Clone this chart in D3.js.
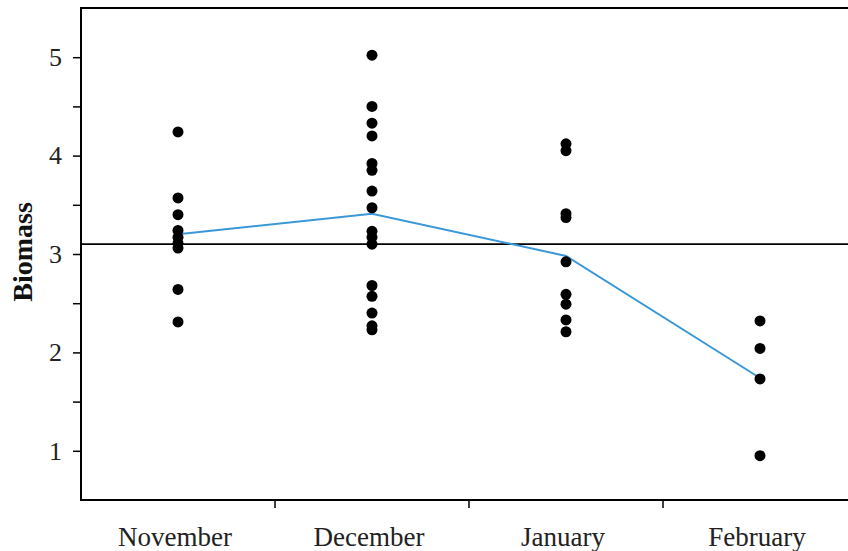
<!DOCTYPE html>
<html>
<head>
<meta charset="utf-8">
<script src="https://cdn.jsdelivr.net/npm/d3@7"></script>
<style>
  html, body { margin: 0; padding: 0; background: #fff; }
  svg { display: block; }
</style>
</head>
<body>
<svg id="chart" width="848" height="551"></svg>
<script>
// ---- data ----
const categories = ["November", "December", "January", "February"];
const novemberValues = [4.24, 3.57, 3.40, 3.24, 3.17, 3.11, 3.06, 2.64, 2.31];
const decemberValues = [5.02, 4.50, 4.33, 4.20, 3.92, 3.85, 3.64, 3.47, 3.23, 3.17, 3.10, 2.68, 2.57, 2.40, 2.27, 2.23];
const januaryValues  = [4.12, 4.05, 3.41, 3.37, 2.92, 2.59, 2.49, 2.33, 2.21];
const februaryValues = [2.32, 2.04, 1.73, 0.95];
const groupMeans = [3.20, 3.41, 2.98, 1.74];
const grandMean = 3.10;
const yTickValues = [1, 1.5, 2, 2.5, 3, 3.5, 4, 4.5, 5];
const yDomain = [0.5, 5.5];

const groups = [novemberValues, decemberValues, januaryValues, februaryValues];

// ---- layout ----
const svg = d3.select("#chart");
const plotLeft = 81, plotRight = 857, plotTop = 8, plotBottom = 500;

const x = d3.scaleBand().domain(categories).range([plotLeft, plotRight]).padding(0);
const y = d3.scaleLinear().domain(yDomain).range([plotBottom, plotTop]);
const cx = c => x(c) + x.bandwidth() / 2;

// frame
svg.append("rect")
  .attr("x", plotLeft).attr("y", plotTop)
  .attr("width", plotRight - plotLeft).attr("height", plotBottom - plotTop)
  .attr("fill", "none").attr("stroke", "#000").attr("stroke-width", 2);

// y axis
const yAxis = d3.axisLeft(y)
  .tickValues(yTickValues)
  .tickSize(8)
  .tickPadding(11)
  .tickFormat(d => Number.isInteger(d) ? d3.format("d")(d) : "");
const gy = svg.append("g").attr("transform", `translate(${plotLeft},0)`).call(yAxis);
gy.select(".domain").remove();
gy.selectAll(".tick line").attr("stroke", "#000").attr("stroke-width", 1.5);
gy.selectAll(".tick text")
  .attr("font-family", "'Liberation Serif', 'Times New Roman', serif")
  .attr("font-size", 26).attr("fill", "#222");

// x axis labels
const xAxis = d3.axisBottom(x).tickSize(0).tickPadding(0);
const gx = svg.append("g").attr("transform", `translate(0,${plotBottom})`).call(xAxis);
gx.select(".domain").remove();
gx.selectAll(".tick text")
  .attr("y", 27)
  .attr("x", -3)
  .attr("font-family", "'Liberation Serif', 'Times New Roman', serif")
  .attr("font-size", 27).attr("fill", "#222");

// x boundary ticks between categories
svg.append("g").selectAll("line")
  .data(categories.slice(0, -1))
  .join("line")
  .attr("x1", d => x(d) + x.bandwidth()).attr("x2", d => x(d) + x.bandwidth())
  .attr("y1", plotBottom).attr("y2", plotBottom + 8)
  .attr("stroke", "#000").attr("stroke-width", 1.5);

// y title
svg.append("text")
  .attr("transform", `translate(32,252) rotate(-90)`)
  .attr("text-anchor", "middle")
  .attr("font-family", "'Liberation Serif', 'Times New Roman', serif")
  .attr("font-weight", "bold")
  .attr("font-size", 28)
  .attr("fill", "#111")
  .text("Biomass");

// grand mean reference line
svg.append("line")
  .attr("x1", plotLeft).attr("x2", plotRight)
  .attr("y1", y(grandMean)).attr("y2", y(grandMean))
  .attr("stroke", "#000").attr("stroke-width", 1.6);

// means line
const meanLine = d3.line().x((d, i) => cx(categories[i])).y(d => y(d));
svg.append("path")
  .datum(groupMeans)
  .attr("d", meanLine)
  .attr("fill", "none")
  .attr("stroke", "#3a98d8")
  .attr("stroke-width", 2);

// points
groups.forEach((vals, i) => {
  svg.append("g").selectAll("circle")
    .data(vals)
    .join("circle")
    .attr("cx", cx(categories[i]))
    .attr("cy", d => y(d))
    .attr("r", 5.5)
    .attr("fill", "#000");
});
</script>
</body>
</html>
